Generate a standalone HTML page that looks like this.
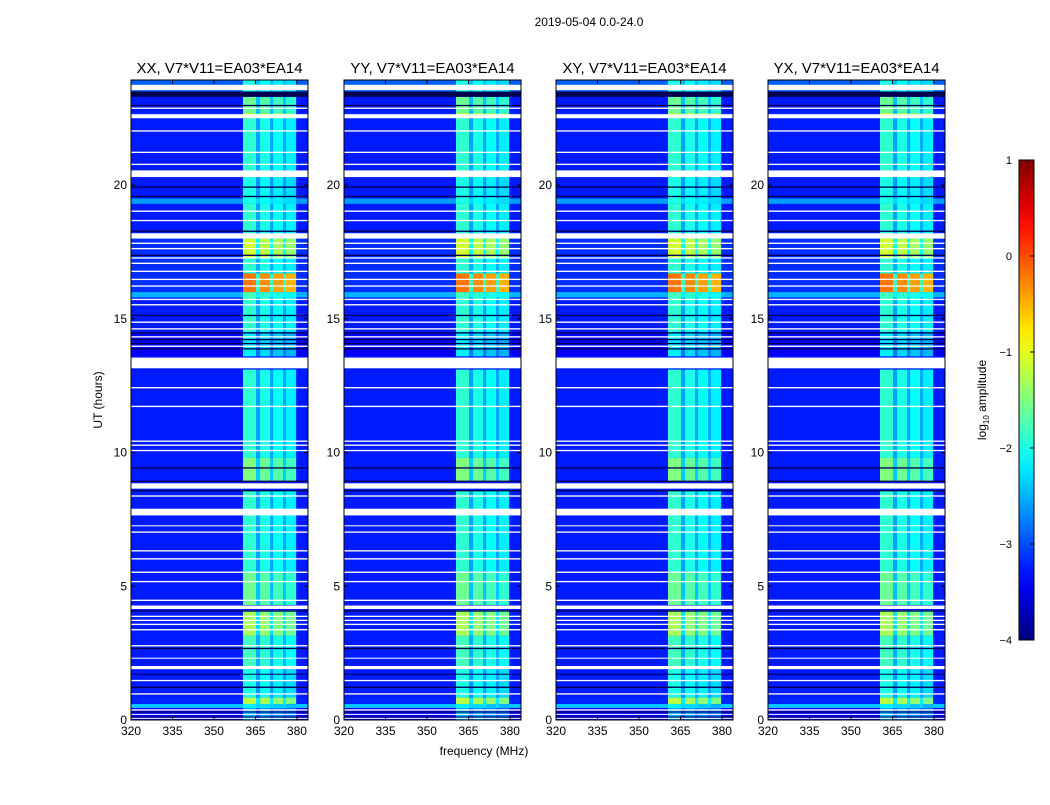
<!DOCTYPE html>
<html><head><meta charset="utf-8"><style>
body{margin:0;background:#fff;font-family:"Liberation Sans",sans-serif;}
svg text{font-family:"Liberation Sans",sans-serif;}
</style></head><body>
<svg id="fig" width="1050" height="800" viewBox="0 0 1050 800">
<text x="589" y="26" font-size="12" text-anchor="middle">2019-05-04 0.0-24.0</text>
<text x="484" y="755" font-size="12" text-anchor="middle">frequency (MHz)</text>
<text x="0" y="0" font-size="12" text-anchor="middle" transform="translate(102,400) rotate(-90)">UT (hours)</text>
<text x="0" y="0" font-size="12" text-anchor="middle" transform="translate(986,400) rotate(-90)">log<tspan font-size="8" dy="3">10</tspan><tspan dy="-3"> amplitude</tspan></text>
</svg>
<script>
const panelTitles=["XX, V7*V11=EA03*EA14","YY, V7*V11=EA03*EA14","XY, V7*V11=EA03*EA14","YX, V7*V11=EA03*EA14"];
const xTicks=[320,335,350,365,380];
const yTicks=[0,5,10,15,20];
const cbTicks=[1,0,-1,-2,-3,-4];
const bandStart=[360.5,366.7,371.4,376.0];
const bandEnd=[365.2,370.3,375.0,379.7];
const segStart=[0,0.45,0.6,0.85,2.0,3.15,4.3,5.5,8.9,9.8,13.6,14.5,15.8,16.0,16.7,17.3,18.2,19.3,19.5,20.55,22.5,22.7,23.5];
const segEnd=[0.45,0.6,0.85,1.9,3.15,4.1,5.5,8.6,9.8,13.1,14.5,15.8,16.0,16.7,17.3,18.0,19.3,19.5,20.3,22.5,22.7,23.3,23.93];
const segBg=[-3.4,-2.4,-3.2,-3.25,-3.25,-3.25,-3.25,-3.25,-3.25,-3.25,-3.4,-3.25,-2.5,-3.15,-3.15,-3.15,-3.25,-2.6,-3.25,-3.25,-3.15,-3.25,-2.9];
const segBand=[-2.5,-2.2,-1.2,-2.0,-1.8,-1.3,-1.6,-1.9,-1.5,-1.9,-2.2,-1.9,-1.8,-0.2,-1.9,-1.1,-1.9,-2.0,-2.0,-1.9,-1.2,-1.6,-2.0];
const whiteStart=[0.05,0.2,0.35,0.95,1.45,1.9,2.3,2.75,3.35,3.55,3.7,3.85,4.15,4.45,5.15,5.5,6.0,6.3,7.0,7.25,7.65,8.35,8.65,10.05,10.25,10.4,11.7,12.4,13.15,13.95,14.3,14.6,14.85,15.5,15.7,16.2,16.45,16.75,17.05,17.25,17.6,17.8,18.0,18.65,19.0,20.3,20.75,21.2,22.0,22.5,22.85,23.55];
const whiteEnd=[0.08,0.23,0.4,1.0,1.5,2.02,2.33,2.8,3.4,3.6,3.75,3.9,4.28,4.5,5.2,5.55,6.05,6.35,7.05,7.28,7.9,8.4,8.85,10.1,10.3,10.45,11.75,12.45,13.55,14.0,14.35,14.65,14.9,15.55,15.75,16.25,16.5,16.8,17.1,17.3,17.65,17.85,18.2,18.7,19.05,20.55,20.8,21.25,22.05,22.65,22.9,23.75];
const darkStart=[0.1,0.28,1.2,1.7,2.65,4.05,8.55,8.9,9.4,13.85,14.05,14.2,14.45,15.1,17.35,18.25,19.55,19.9,22.95,23.3];
const darkEnd=[0.13,0.32,1.25,1.73,2.7,4.1,8.6,8.95,9.45,13.9,14.1,14.25,14.5,15.15,17.4,18.3,19.6,19.95,23.0,23.5];

const NS="http://www.w3.org/2000/svg";
const svg=document.getElementById('fig');
const panelX=[131,344,556,768], PW=177, PT=80, PB=720;
const fMin=320,fMax=384,tMin=0,tMax=23.93;
function jet(v){
  let x=Math.max(0,Math.min(1,(v+4)/5));
  const c=t=>Math.round(255*Math.max(0,Math.min(1,1.5-Math.abs(4*x-t))));
  return `rgb(${c(3)},${c(2)},${c(1)})`;
}
function el(tag,attrs,parent){const e=document.createElementNS(NS,tag);for(const k in attrs)e.setAttribute(k,attrs[k]);(parent||svg).appendChild(e);return e;}
for(let p=0;p<4;p++){
  const x0=panelX[p];
  const xs=f=>x0+(f-fMin)/(fMax-fMin)*PW;
  const ys=t=>PB-(t-tMin)/(tMax-tMin)*(PB-PT);
  const g=el('g',{});
  
  
  const bg=el('rect',{x:x0,y:PT,width:PW,height:PB-PT,fill:jet(-3.25)},g);
  
  
  for(let i=0;i<segStart.length;i++){
    const y1=ys(segEnd[i]),y0=ys(segStart[i]);
    const r=el('rect',{x:x0,y:y1,width:PW,height:y0-y1,fill:jet(segBg[i])},g);
    
    
    const mid=(segBg[i]+segBand[i])/2;
    const m=el('rect',{x:xs(bandStart[0]),y:y1,width:xs(bandEnd[3])-xs(bandStart[0]),height:y0-y1,fill:jet(Math.min(mid,-1.9))},g);
    
    
    for(let b=0;b<bandStart.length;b++){
      const c=el('rect',{x:xs(bandStart[b]),y:y1,width:xs(bandEnd[b])-xs(bandStart[b]),height:y0-y1,fill:jet(segBand[i]-0.1*b)},g);
      
      
    }
  }
  for(let i=0;i<darkStart.length;i++){
    const y1=ys(darkEnd[i]),y0=ys(darkStart[i]);
    const r=el('rect',{x:x0,y:y1,width:PW,height:Math.max(1,y0-y1),fill:'#000050'},g);
    
    
  }
  for(let i=0;i<whiteStart.length;i++){
    const y1=ys(whiteEnd[i]),y0=ys(whiteStart[i]);
    const r=el('rect',{x:x0,y:y1,width:PW,height:Math.max(1,y0-y1),fill:'#fff'},g);
    
    
  }
  const fr=el('rect',{x:x0,y:PT,width:PW,height:PB-PT,fill:'none',stroke:'#000','stroke-width':1},g);
  
  
  const tt=el('text',{x:x0+PW/2,y:73,'font-size':15,'text-anchor':'middle'},g);
  tt.textContent=panelTitles[p];
  
  
  xTicks.forEach(v=>{
    const x=xs(v);
    el('line',{x1:x,x2:x,y1:PB,y2:PB-4,stroke:'#000'},g);
    el('line',{x1:x,x2:x,y1:PT,y2:PT+4,stroke:'#000'},g);
    const t=el('text',{x:x,y:PB+15,'font-size':12,'text-anchor':'middle'},g);
    t.textContent=v;
    
    
  });
  yTicks.forEach(v=>{
    const y=ys(v);
    el('line',{x1:x0,x2:x0+4,y1:y,y2:y,stroke:'#000'},g);
    el('line',{x1:x0+PW,x2:x0+PW-4,y1:y,y2:y,stroke:'#000'},g);
    const t=el('text',{x:x0-4,y:y+4,'font-size':12,'text-anchor':'end'},g);
    t.textContent=v;
    
    
  });
}
const cbX=1019,cbW=15,cbT=160,cbB=640;
const defs=el('defs',{});
const lg=el('linearGradient',{id:'jetg',x1:0,y1:1,x2:0,y2:0},defs);
for(let i=0;i<=20;i++){el('stop',{offset:(i/20),'stop-color':jet(-4+5*i/20)},lg);}
const cb=el('rect',{x:cbX,y:cbT,width:cbW,height:cbB-cbT,fill:'url(#jetg)',stroke:'#000'});


cbTicks.forEach(v=>{
  const y=cbB-(v+4)/5*(cbB-cbT);
  el('line',{x1:cbX+cbW-4,x2:cbX+cbW,y1:y,y2:y,stroke:'#000'});
  const t=el('text',{x:1012,y:y+4,'font-size':11,'text-anchor':'end'});
  t.textContent=v<0?'\u2212'+(-v):v;
  
  
});
</script>
</body></html>
